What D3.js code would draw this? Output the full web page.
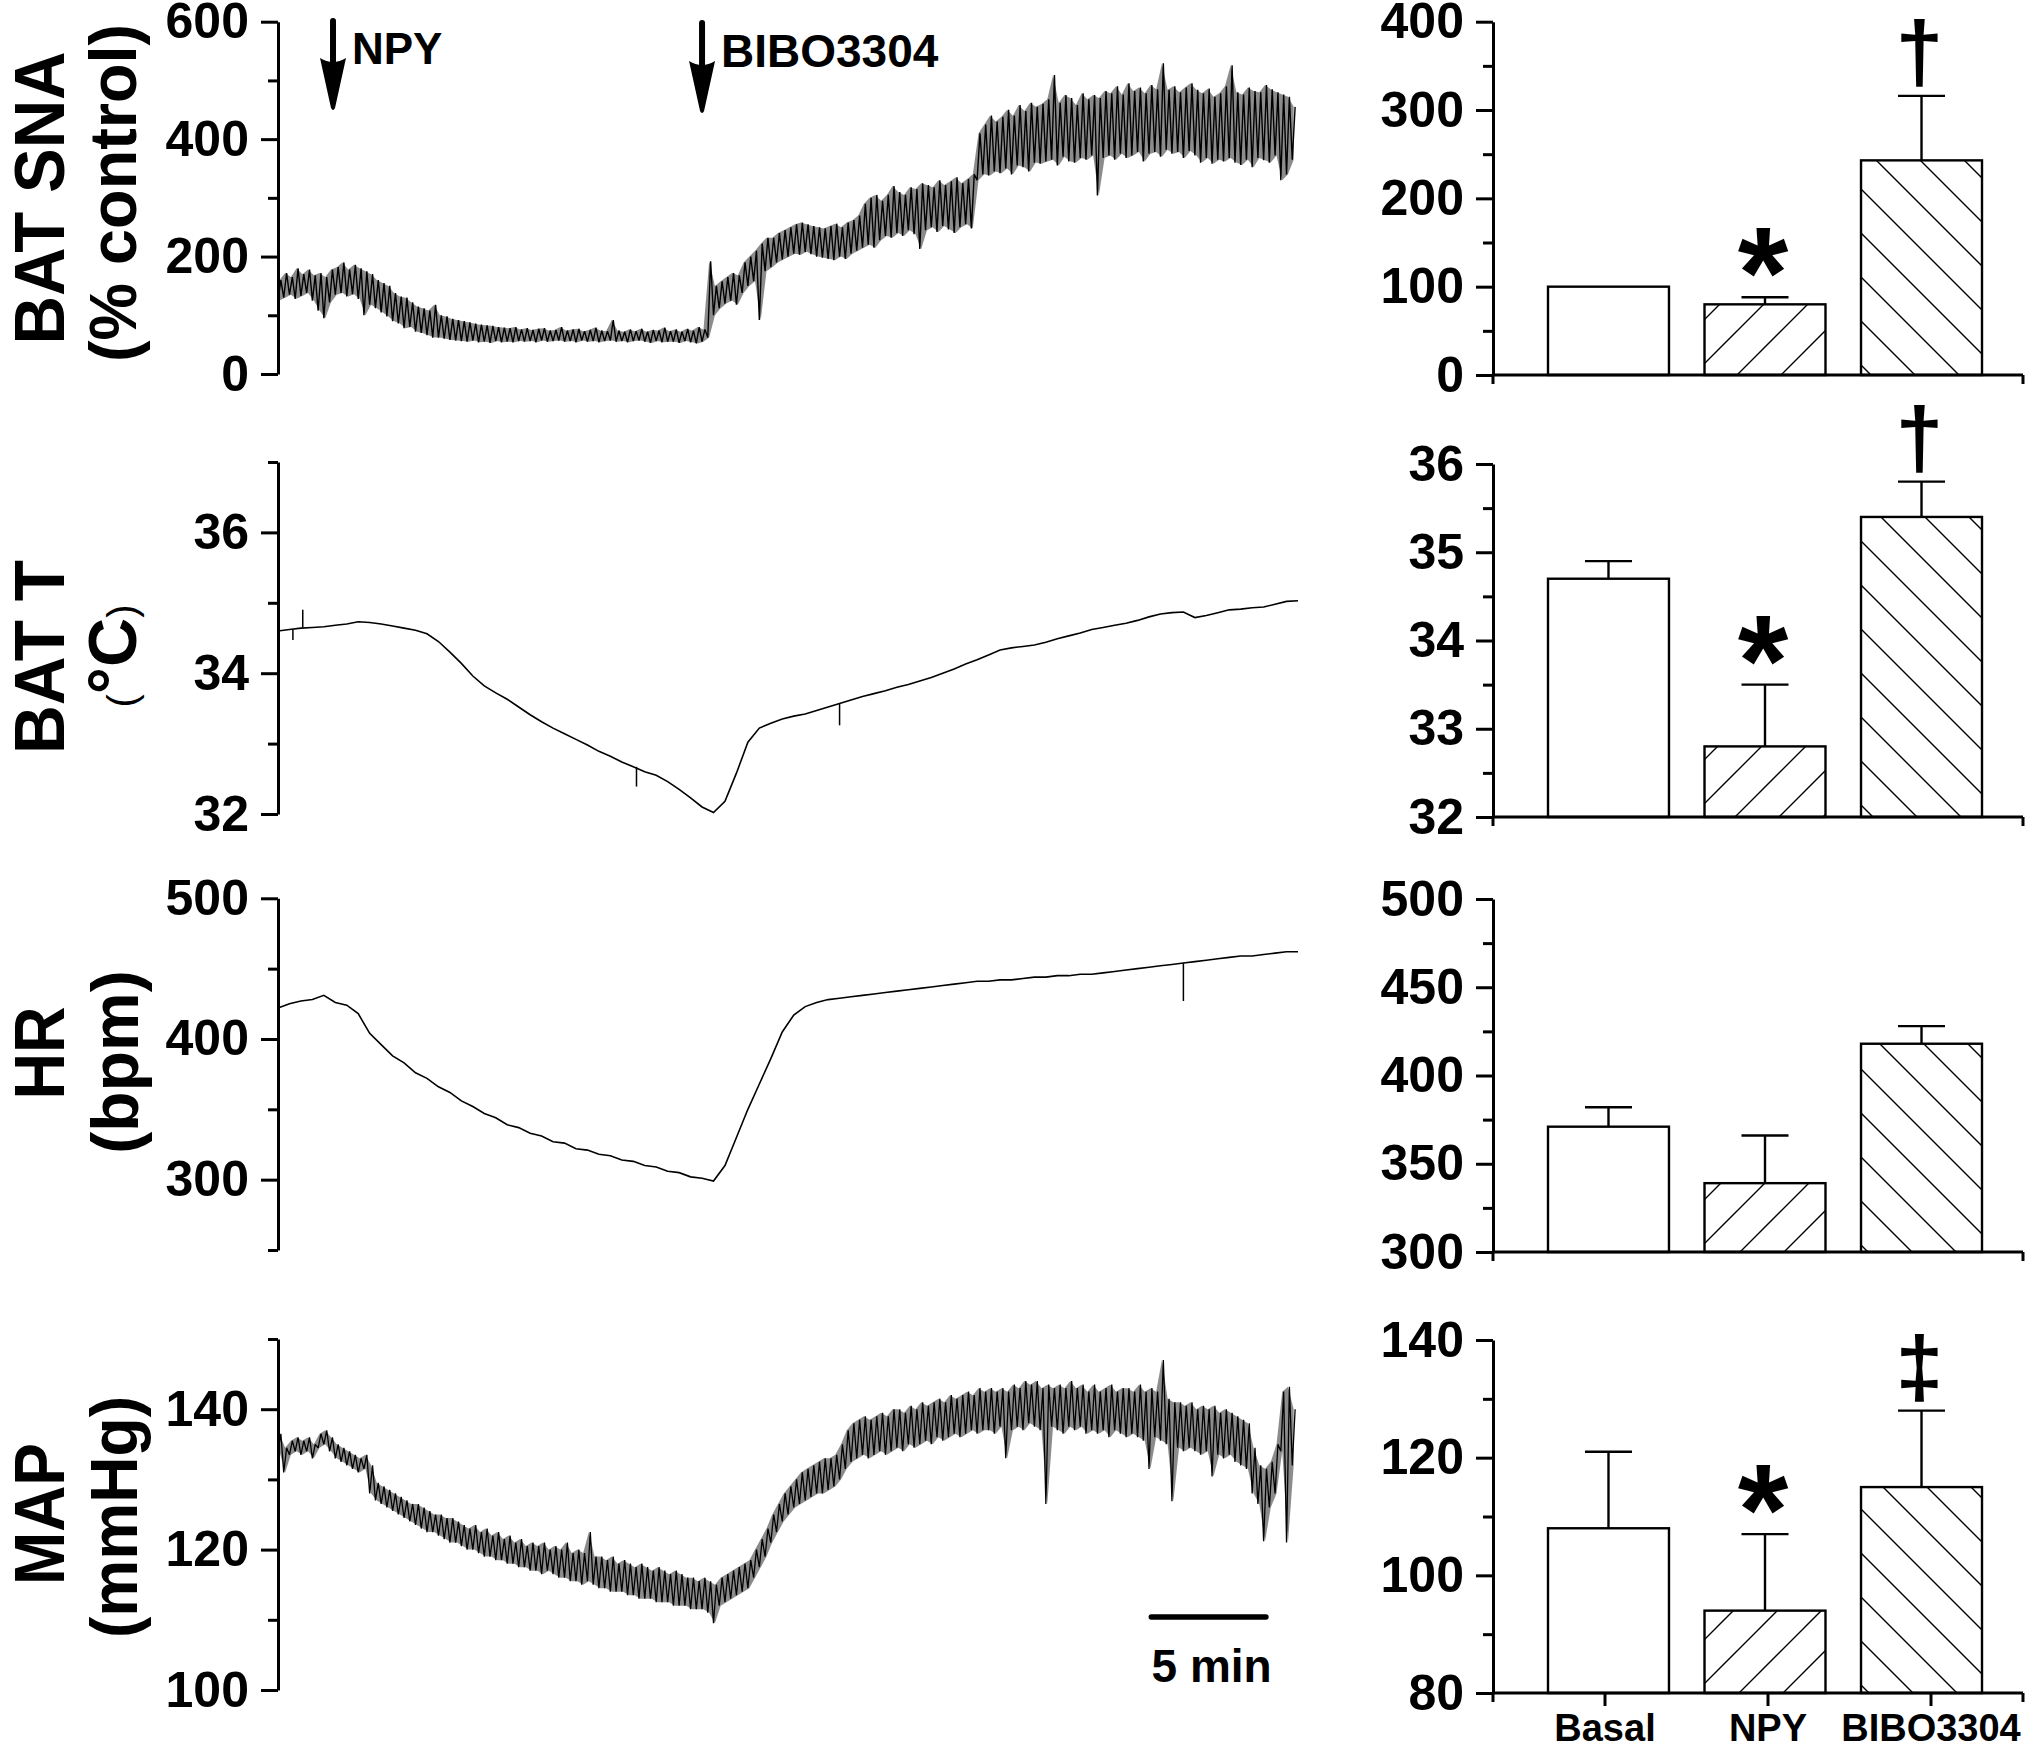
<!DOCTYPE html>
<html>
<head>
<meta charset="utf-8">
<script src="https://cdn.jsdelivr.net/npm/d3@7/dist/d3.min.js"></script>
<style>
html,body{margin:0;padding:0;background:#fff;}
svg{display:block;}
text{font-family:"Liberation Sans",Arial,Helvetica,sans-serif;font-weight:bold;fill:#000;}
</style>
</head>
<body>
<svg id="chart" width="2040" height="1751"></svg>
<script>
// ================= DATA =================
const categories = ["Basal", "NPY", "BIBO3304"];

// bar panels: mean, SEM, significance marks
const snaBarMean = [100, 80, 243];
const snaBarSem  = [0, 8, 73];
const snaMarks   = ["", "*", "†"];
const tBarMean   = [34.7, 32.8, 35.4];
const tBarSem    = [0.2, 0.7, 0.4];
const tMarks     = ["", "*", "†"];
const hrBarMean  = [371, 339, 418];
const hrBarSem   = [11, 27, 10];
const hrMarks    = ["", "", ""];
const mapBarMean = [108, 94, 115];
const mapBarSem  = [13, 13, 13];
const mapMarks   = ["", "*", "‡"];

// tick values
const snaTicks = [0, 200, 400, 600], snaMinor = [100, 300, 500];
const tTicks = [32, 34, 36], tMinor = [33, 35, 37];
const hrTicks = [300, 400, 500], hrMinor = [250, 350, 450];
const mapTicks = [100, 120, 140], mapMinor = [110, 130, 150];
const snaBarTicks = [0, 100, 200, 300, 400], snaBarMinor = [50, 150, 250, 350];
const tBarTicks = [32, 33, 34, 35, 36], tBarMinor = [32.5, 33.5, 34.5, 35.5];
const hrBarTicks = [300, 350, 400, 450, 500], hrBarMinor = [325, 375, 425, 475];
const mapBarTicks = [80, 100, 120, 140], mapBarMinor = [90, 110, 130];

// events (minutes) and scale bar
const npyTime = 2.4, biboTime = 18.5;
const scaleBarStart = 38.1, scaleBarMinutes = 5;
const traceDuration = 44.5;

// traces: noisy signals as [low, high] per 0.25 min sample
const noisyStep = 0.25;
const snaRange = [
[125,160],[130,172],[135,165],[128,180],[133,170],[138,178],[125,168],[108,172],[95,165],[122,178],[135,182],[138,190],[132,178],[136,186],[128,180],[100,175],
[118,170],[112,160],[105,155],[98,150],[90,138],[86,132],[78,130],[80,122],[72,115],[70,112],[66,108],[62,118],[62,100],[60,98],[58,94],[57,92],
[56,90],[55,88],[57,86],[54,84],[55,83],[53,82],[56,80],[54,79],[55,78],[54,80],[56,76],[55,78],[56,75],[54,77],[57,78],[55,74],
[56,75],[57,80],[55,74],[56,76],[54,77],[57,73],[55,75],[56,79],[54,74],[56,73],[57,92],[55,74],[56,72],[54,76],[56,73],[57,77],
[55,72],[53,75],[56,74],[54,79],[55,73],[55,76],[53,72],[56,77],[54,74],[52,80],[55,76],[62,192],[100,150],[112,158],[120,165],[125,172],
[118,168],[138,190],[150,200],[158,210],[92,222],[175,232],[182,232],[190,240],[195,245],[200,250],[205,255],[203,258],[208,255],[204,252],[200,250],[198,248],
[196,252],[194,256],[200,250],[196,258],[205,262],[210,270],[215,290],[220,300],[215,305],[228,295],[235,305],[232,320],[240,310],[235,305],[245,318],[238,315],
[213,325],[245,322],[250,318],[242,330],[252,322],[246,328],[240,335],[250,325],[255,332],[248,340],[330,410],[340,425],[338,440],[345,430],[342,438],[350,450],
[340,440],[355,458],[352,448],[345,462],[360,455],[358,460],[362,468],[365,509],[355,462],[370,475],[362,470],[360,458],[368,478],[365,468],[372,475],[304,470],
[368,482],[372,478],[365,490],[375,476],[368,495],[372,482],[378,488],[362,478],[375,492],[378,485],[370,529],[382,484],[375,490],[378,480],[368,488],[380,495],
[372,484],[360,478],[368,486],[358,472],[365,478],[362,490],[368,526],[360,480],[356,476],[365,488],[352,482],[368,480],[364,492],[360,485],[372,480],[330,476],[340,472],[365,455]
];
const mapRange = [
[134,136.5],[131,134.5],[133.5,135.5],[134,136],[133.5,135.5],[134,136],[133,135],[134.5,136.5],[135,137],[134,136],[133,135],[132.5,134.5],[132,134],[131.5,133.5],[131,133],[131.5,133.5],
[128,132],[127,129.5],[126.5,129],[126,128.5],[125.5,128],[125,127.5],[124.5,127],[124,126.5],[123.5,126.5],[123,126],[122.5,125.5],[122.5,125],[122,125],[121.5,124.5],[121,124.5],[121,124],
[120.5,123.5],[120,123],[120,123.5],[119.5,122.5],[119,123],[119,122],[118.5,122.5],[118.5,121.5],[118,122],[118,121],[117.5,121.5],[117.5,120.5],[117,121],[117,120.5],[116.5,121],[117,120],
[116.5,120.5],[116,120],[116,121],[115.5,119.5],[115.5,120],[115,119.5],[115.5,122.5],[115,119],[114.5,119],[114.5,118.5],[114,119],[114,118],[114,118.5],[113.5,118],[113.5,117.5],[113,118],
[113,117.5],[113,117],[112.5,117.5],[112.5,117],[112.5,116.5],[112,117],[112,116.5],[112,116],[111.5,116],[111.5,115.5],[111.5,116],[111,115.5],[109.5,115],[112,116],[112.5,116.5],[113,117],
[113.5,117.5],[114,118],[114.5,118.5],[116,120],[117.5,121.5],[119,123],[121,125],[122.5,126.5],[124,128],[125,129],[126,130],[126.5,131],[127,131.5],[127.5,132],[128,132.5],[128,133],
[128.5,133],[129,133.5],[130,135],[131.5,137],[132.5,138],[133,138.5],[133.5,139],[133,138.5],[133.5,139],[134,139.5],[133.5,139],[134,140],[134.5,140],[134,139.5],[135,140.5],[134.5,140],
[135,141],[135.5,140.5],[135,141],[136,141.5],[135.5,141],[136,142],[136.5,141.5],[136,142],[136.5,142.5],[137,142],[136.5,143],[137,142.5],[137,143],[136.5,142.5],[137.5,143],[133,142.5],
[137,143.5],[137.5,143],[137,144],[138,143.5],[137.5,144],[137,143],[126.5,143.5],[137.5,143],[137,143.5],[136.5,143],[137.5,144],[137,143],[137.5,143.5],[136.5,142.5],[137,143.5],[136.5,142.5],
[137,143],[136,143.5],[137,142.5],[136.5,143],[136,143],[136.5,142.5],[136,143.5],[135.5,142.5],[131.5,143],[136,142.5],[135.5,147],[135,141.5],[126.9,141],[134.5,141],[134,140.5],[134.5,141],
[134,140],[133.5,140.5],[134,140],[130.4,140.5],[133.5,139.5],[133,140],[133.5,139.5],[132.5,139],[132,138.5],[131.5,138],[128,134.5],[126.5,132],[121.2,131.5],[126,132.5],[128,135],[134,142.5],[121,143.2],[132,140]
];

// smooth traces: one value per 0.5 min sample
const smoothStep = 0.5;
const batT = [34.60,34.62,34.64,34.65,34.66,34.68,34.70,34.73,34.72,34.70,34.67,34.64,34.61,34.56,34.45,34.30,34.14,33.96,33.82,33.72,
33.63,33.52,33.41,33.31,33.22,33.14,33.06,32.98,32.89,32.82,32.74,32.67,32.60,32.55,32.46,32.35,32.23,32.10,32.02,32.18,
32.58,33.02,33.22,33.29,33.35,33.39,33.42,33.47,33.52,33.57,33.62,33.67,33.71,33.75,33.80,33.84,33.89,33.94,34.00,34.06,
34.13,34.19,34.26,34.33,34.36,34.38,34.40,34.44,34.49,34.53,34.57,34.62,34.65,34.68,34.71,34.75,34.80,34.84,34.86,34.87,
34.79,34.82,34.86,34.90,34.91,34.93,34.94,34.98,35.02,35.03];
const hr = [422,425,427,428,431,426,424,418,404,396,388,383,376,372,366,362,356,352,347,344,
339,337,333,331,327,326,322,321,318,317,314,313,310,309,306,305,302,301,299,310,
330,350,368,386,405,417,423,426,428,429,430,431,432,433,434,435,436,437,438,439,
440,441,441,442,442,443,444,444,445,445,446,446,447,448,449,450,451,452,453,454,
455,456,457,458,459,459,460,461,462,462];
// isolated spikes: [time, base, peak]
const batTSpikes = [[0.65,34.62,34.47],[1.08,34.65,34.90],[15.64,32.67,32.39],[24.5,33.57,33.26]];
const hrSpikes = [[39.5,454,427]];

// ================= LAYOUT =================
const LEFT_AXIS_X = 278, TRACE_END_X = 1298;
const RIGHT_AXIS_X = 1493, RIGHT_END_X = 2023;
const leftRows = [[21.7,374],[462,814],[898.3,1250],[1339,1690]];
const rightRows = [[21.7,375],[464,817],[899,1252],[1340,1693]];

const svg = d3.select("#chart");
const defs = svg.append("defs");
function hatch(id, d) {
  defs.append("pattern").attr("id", id).attr("patternUnits", "userSpaceOnUse")
    .attr("width", 44).attr("height", 44)
    .append("path").attr("d", d).attr("stroke", "#000").attr("stroke-width", 1.4).attr("fill", "none");
}
hatch("hatchF", "M0,44L44,0M-11,11L11,-11M33,55L55,33");
hatch("hatchB", "M0,0L44,44M-11,33L11,55M33,-11L55,11");
const barFills = [null, "url(#hatchF)", "url(#hatchB)"];

const x = d3.scaleLinear().domain([0, traceDuration]).range([LEFT_AXIS_X, TRACE_END_X]);

function yAxis(y, major, minor, x0) {
  const g = svg.append("g");
  const gm = g.append("g").attr("transform", `translate(${x0},0)`)
    .call(d3.axisLeft(y).tickValues(major).tickSize(17).tickPadding(12).tickSizeOuter(0).tickFormat(d3.format("d")));
  const gn = g.append("g").attr("transform", `translate(${x0},0)`)
    .call(d3.axisLeft(y).tickValues(minor).tickSize(10).tickSizeOuter(0).tickFormat(""));
  gn.select(".domain").remove();
  g.selectAll("line,path").attr("stroke", "#000").attr("stroke-width", 3);
  gm.attr("font-size", null).attr("font-family", null);
  gm.selectAll("text").style("font-size", "50px").attr("fill", "#000");
  return g;
}

function vlabel(txt, bx, cy, size, len) {
  const t = svg.append("text").attr("transform", `translate(${bx},${cy}) rotate(-90)`)
    .attr("text-anchor", "middle").style("font-size", size + "px").text(txt);
  if (len) t.attr("textLength", len).attr("lengthAdjust", "spacingAndGlyphs");
  return t;
}

const line = d3.line();

function noisyTrace(y, pairs, sw, op) {
  // shaded envelope of the noise band
  const area = d3.area()
    .x((p, i) => x(i * noisyStep + noisyStep / 4))
    .y0(p => y(p[0])).y1(p => y(p[1]));
  svg.append("path").attr("d", area(pairs)).attr("fill", "#000").attr("fill-opacity", op).attr("stroke", "none");
  const pts = [];
  pairs.forEach((p, i) => {
    pts.push([x(i * noisyStep), y(p[0])]);
    pts.push([x(i * noisyStep + noisyStep / 2), y(p[1])]);
  });
  svg.append("path").attr("d", line(pts)).attr("fill", "none").attr("stroke", "#000")
    .attr("stroke-width", sw).attr("stroke-linejoin", "bevel");
}
function smoothTrace(y, vals, spikes) {
  const pts = vals.map((v, i) => [x(i * smoothStep), y(v)]);
  svg.append("path").attr("d", line(pts)).attr("fill", "none").attr("stroke", "#000").attr("stroke-width", 1.6);
  spikes.forEach(s => {
    svg.append("line").attr("x1", x(s[0])).attr("x2", x(s[0])).attr("y1", y(s[1])).attr("y2", y(s[2]))
      .attr("stroke", "#000").attr("stroke-width", 1.5);
  });
}

// ---------- left trace panels ----------
const ySna = d3.scaleLinear().domain([0, 600]).range([leftRows[0][1], leftRows[0][0]]);
const yT = d3.scaleLinear().domain([32, 37]).range([leftRows[1][1], leftRows[1][0]]);
const yHr = d3.scaleLinear().domain([250, 500]).range([leftRows[2][1], leftRows[2][0]]);
const yMap = d3.scaleLinear().domain([100, 150]).range([leftRows[3][1], leftRows[3][0]]);

noisyTrace(ySna, snaRange, 1.4, 0.45);
smoothTrace(yT, batT, batTSpikes);
smoothTrace(yHr, hr, hrSpikes);
noisyTrace(yMap, mapRange, 1.3, 0.45);

yAxis(ySna, snaTicks, snaMinor, LEFT_AXIS_X);
yAxis(yT, tTicks, tMinor, LEFT_AXIS_X);
yAxis(yHr, hrTicks, hrMinor, LEFT_AXIS_X);
yAxis(yMap, mapTicks, mapMinor, LEFT_AXIS_X);

// axis titles
vlabel("BAT SNA", 64, 198, 70, 293);
vlabel("(% control)", 136, 193, 66, 338);
vlabel("BAT T", 64, 657, 70, 194);
const tUnit = svg.append("text").attr("transform", "translate(136,656) rotate(-90)").attr("text-anchor", "middle");
tUnit.append("tspan").style("font-size", "40px").style("font-weight", "normal").text("(");
tUnit.append("tspan").style("font-size", "68px").text("°C");
tUnit.append("tspan").style("font-size", "40px").style("font-weight", "normal").text(")");
vlabel("HR", 64, 1053, 70, 93);
vlabel("(bpm)", 138, 1062, 66);
vlabel("MAP", 64, 1514, 70, 142);
vlabel("(mmHg)", 137, 1517, 66, 242);

// arrows
function arrow(t, yTop, yTip, label, fs, base) {
  const ax = x(t);
  svg.append("line").attr("x1", ax).attr("x2", ax).attr("y1", yTop).attr("y2", yTip - 40)
    .attr("stroke", "#000").attr("stroke-width", 6).attr("stroke-linecap", "round");
  svg.append("path").attr("d", `M${ax - 13},${yTip - 52} Q${ax},${yTip - 44} ${ax + 13},${yTip - 52} L${ax + 2},${yTip - 2} Q${ax},${yTip + 2} ${ax - 2},${yTip - 2} Z`)
    .attr("fill", "#000");
  svg.append("text").attr("x", ax + 19).attr("y", base).style("font-size", fs + "px").text(label);
}
arrow(npyTime, 21, 110, "NPY", 44, 63.5);
arrow(biboTime, 23, 113, "BIBO3304", 46, 67);

// scale bar
svg.append("line").attr("x1", x(scaleBarStart)).attr("x2", x(scaleBarStart + scaleBarMinutes))
  .attr("y1", 1617).attr("y2", 1617).attr("stroke", "#000").attr("stroke-width", 5.5).attr("stroke-linecap", "round");
svg.append("text").attr("x", (x(scaleBarStart) + x(scaleBarStart + scaleBarMinutes)) / 2 + 3).attr("y", 1682)
  .attr("text-anchor", "middle").style("font-size", "46px").text(scaleBarMinutes + " min");

// ---------- right bar panels ----------
const band = d3.scaleBand().domain(categories).range([1530, 2000]).paddingInner(0.227).paddingOuter(0.115);
const catPos = d3.scalePoint().domain(categories).range([1605, 1931]);

function barPanel(row, domain, major, minor, means, sems, marks, showCats) {
  const y = d3.scaleLinear().domain(domain).range([row[1], row[0]]);
  const g = svg.append("g");
  const yb = y(domain[0]);
  categories.forEach((c, i) => {
    const x0 = band(c), w = band.bandwidth(), yv = y(means[i]), cx = x0 + w / 2;
    g.append("rect").attr("x", x0).attr("y", yv).attr("width", w).attr("height", yb - yv).attr("fill", "#fff");
    if (barFills[i]) g.append("rect").attr("x", x0).attr("y", yv).attr("width", w).attr("height", yb - yv).attr("fill", barFills[i]);
    g.append("rect").attr("x", x0).attr("y", yv).attr("width", w).attr("height", yb - yv)
      .attr("fill", "none").attr("stroke", "#000").attr("stroke-width", 2.4);
    let yTop = yv;
    if (sems[i] > 0) {
      const ye = y(means[i] + sems[i]);
      yTop = ye;
      g.append("line").attr("x1", cx).attr("x2", cx).attr("y1", yv).attr("y2", ye).attr("stroke", "#000").attr("stroke-width", 2.4);
      g.append("line").attr("x1", cx - 23.5).attr("x2", cx + 23.5).attr("y1", ye).attr("y2", ye).attr("stroke", "#000").attr("stroke-width", 2.4);
    }
    const m = marks[i];
    if (m === "*") {
      g.append("text").attr("x", cx - 2).attr("y", yTop + 21).attr("text-anchor", "middle").style("font-size", "130px").text(m);
    } else if (m) {
      g.append("text").attr("x", cx - 2).attr("y", yTop - 15).attr("text-anchor", "middle").style("font-size", "86px").text(m);
    }
  });
  // x axis
  g.append("line").attr("x1", RIGHT_AXIS_X).attr("x2", RIGHT_END_X).attr("y1", yb).attr("y2", yb).attr("stroke", "#000").attr("stroke-width", 3);
  g.append("line").attr("x1", RIGHT_END_X).attr("x2", RIGHT_END_X).attr("y1", yb).attr("y2", yb + 9).attr("stroke", "#000").attr("stroke-width", 3);
  g.append("line").attr("x1", RIGHT_AXIS_X).attr("x2", RIGHT_AXIS_X).attr("y1", yb).attr("y2", yb + 9).attr("stroke", "#000").attr("stroke-width", 3);
  yAxis(y, major, minor, RIGHT_AXIS_X);
  if (showCats) {
    categories.forEach(c => {
      svg.append("line").attr("x1", catPos(c)).attr("x2", catPos(c)).attr("y1", yb).attr("y2", yb + 13).attr("stroke", "#000").attr("stroke-width", 3);
      svg.append("text").attr("x", catPos(c)).attr("y", 1741).attr("text-anchor", "middle").style("font-size", "38px").text(c);
    });
  }
}
barPanel(rightRows[0], [0, 400], snaBarTicks, snaBarMinor, snaBarMean, snaBarSem, snaMarks, false);
barPanel(rightRows[1], [32, 36], tBarTicks, tBarMinor, tBarMean, tBarSem, tMarks, false);
barPanel(rightRows[2], [300, 500], hrBarTicks, hrBarMinor, hrBarMean, hrBarSem, hrMarks, false);
barPanel(rightRows[3], [80, 140], mapBarTicks, mapBarMinor, mapBarMean, mapBarSem, mapMarks, true);
</script>
</body>
</html>
